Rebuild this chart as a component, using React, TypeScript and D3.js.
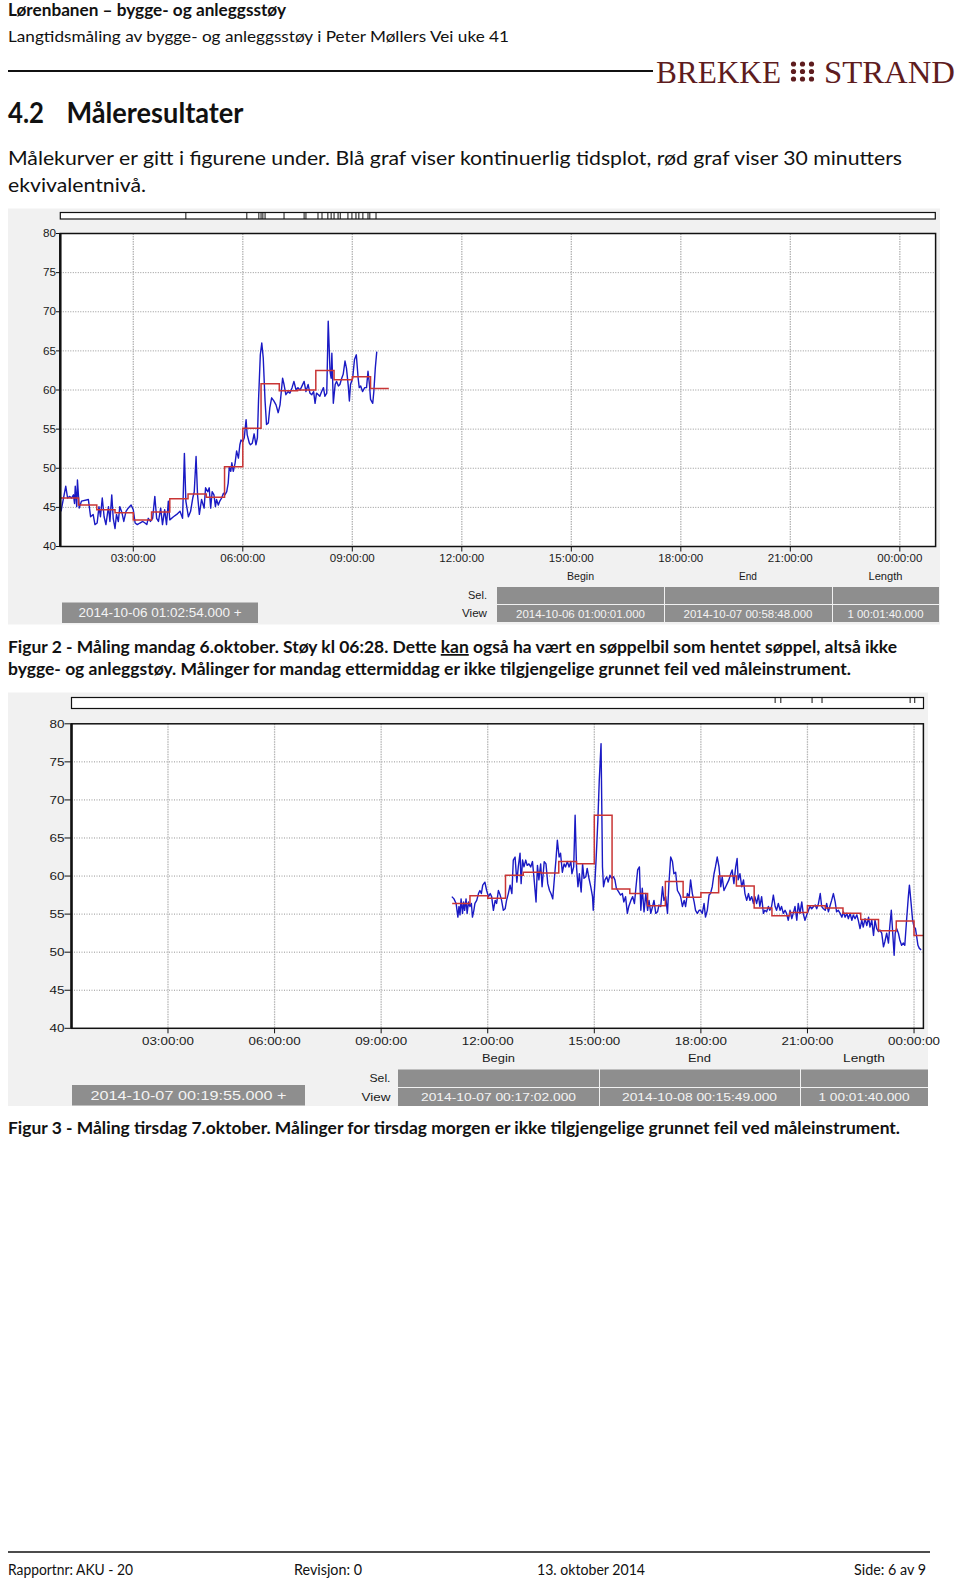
import React from "react";
import * as d3 from "d3";

// ---------- DATA ----------
const yTicks = [40, 45, 50, 55, 60, 65, 70, 75, 80];
const xTickHours = [3, 6, 9, 12, 15, 18, 21, 24];
const xTickLabels = ["03:00:00", "06:00:00", "09:00:00", "12:00:00", "15:00:00", "18:00:00", "21:00:00", "00:00:00"];

// Figur 2 – Monday 6 Oct: continuous level [hour, dB]
const fig2Blue: [number, number][] = [
  [1.02, 44.5], [1.15, 47.7], [1.2, 46.2], [1.26, 46.4], [1.31, 46.2], [1.36, 46.6], [1.39, 45.5], [1.41, 47.7],
  [1.45, 45.1], [1.47, 48.5], [1.52, 44.9], [1.58, 45.8], [1.77, 46.0], [1.83, 43.8], [1.9, 44.1], [1.95, 42.8],
  [2.01, 43.0], [2.06, 45.1], [2.1, 43.8], [2.15, 46.2], [2.2, 43.8], [2.25, 42.8], [2.32, 45.1], [2.36, 43.2],
  [2.41, 46.6], [2.45, 43.6], [2.5, 42.3], [2.54, 44.1], [2.59, 43.2], [2.63, 45.1], [2.69, 44.3], [2.74, 43.2],
  [2.8, 44.5], [2.86, 44.9], [2.94, 45.3], [3.0, 44.7], [3.05, 43.0], [3.11, 42.8], [3.18, 43.0], [3.26, 43.2],
  [3.32, 43.0], [3.37, 42.8], [3.41, 43.6], [3.47, 43.2], [3.53, 43.6], [3.59, 46.4], [3.64, 43.6], [3.69, 43.2],
  [3.75, 44.9], [3.8, 42.8], [3.86, 44.7], [3.91, 42.8], [3.96, 45.8], [4.0, 43.4], [4.1, 43.8], [4.19, 44.1],
  [4.28, 44.5], [4.35, 43.6], [4.4, 51.9], [4.44, 45.8], [4.51, 43.8], [4.57, 44.5], [4.63, 46.2], [4.67, 47.0],
  [4.72, 51.5], [4.76, 46.6], [4.81, 44.1], [4.87, 46.0], [4.94, 44.9], [4.98, 47.5], [5.04, 47.0], [5.08, 47.5],
  [5.12, 44.9], [5.16, 47.0], [5.21, 46.6], [5.25, 45.1], [5.28, 46.0], [5.33, 45.3], [5.37, 45.8], [5.42, 46.2],
  [5.47, 46.8], [5.51, 46.6], [5.56, 47.0], [5.6, 48.1], [5.63, 50.2], [5.67, 49.6], [5.7, 50.7], [5.74, 49.6],
  [5.79, 50.7], [5.83, 52.2], [5.88, 51.3], [5.92, 53.0], [5.95, 53.6], [6.0, 53.4], [6.04, 53.9], [6.09, 56.2],
  [6.12, 54.3], [6.18, 53.2], [6.21, 53.0], [6.26, 53.2], [6.31, 54.4], [6.36, 53.0], [6.4, 53.9], [6.43, 58.6],
  [6.48, 64.5], [6.52, 66.0], [6.56, 64.1], [6.61, 58.6], [6.65, 55.6], [6.7, 55.8], [6.74, 57.7], [6.79, 59.0],
  [6.85, 58.6], [6.91, 58.1], [6.97, 57.1], [7.02, 58.1], [7.09, 61.5], [7.13, 60.7], [7.18, 59.4], [7.24, 59.8],
  [7.29, 59.6], [7.35, 60.3], [7.4, 61.1], [7.46, 60.0], [7.51, 60.3], [7.57, 60.0], [7.62, 60.5], [7.68, 61.1],
  [7.73, 59.8], [7.79, 60.7], [7.84, 59.6], [7.89, 59.4], [7.94, 59.8], [7.98, 58.3], [8.02, 59.6], [8.07, 59.4],
  [8.11, 59.2], [8.16, 59.8], [8.21, 60.3], [8.25, 59.2], [8.3, 59.6], [8.34, 68.8], [8.39, 62.4], [8.42, 61.5],
  [8.44, 64.7], [8.48, 58.3], [8.53, 60.7], [8.57, 61.1], [8.62, 60.5], [8.66, 60.7], [8.71, 61.5], [8.75, 62.0],
  [8.8, 63.7], [8.84, 62.8], [8.89, 60.5], [8.92, 58.6], [8.95, 60.7], [9.01, 61.5], [9.06, 63.9], [9.11, 64.5],
  [9.16, 61.5], [9.19, 60.3], [9.23, 60.5], [9.28, 59.8], [9.34, 60.3], [9.39, 60.3], [9.43, 62.4], [9.47, 60.7],
  [9.5, 58.8], [9.56, 58.3], [9.59, 59.8], [9.63, 62.8], [9.67, 64.9],
];
// Figur 2 – 30 min Leq [period start hour, dB]
const fig2Leq: [number, number][] = [
  [1.0, 46.2], [1.5, 45.3], [2.0, 44.7], [2.5, 44.3], [3.0, 43.4], [3.5, 44.4], [4.0, 46.1], [4.5, 46.7],
  [5.0, 46.3], [5.5, 50.2], [6.0, 55.1], [6.5, 60.8], [7.0, 59.9], [7.5, 60.0], [8.0, 62.5], [8.5, 61.3],
  [9.0, 61.7], [9.5, 60.2],
];
const fig2LeqEnd = 10.0;
const fig2Markers = [4.44, 6.11, 6.44, 6.5, 6.55, 6.61, 7.13, 7.68, 7.73, 8.06, 8.17, 8.33, 8.42, 8.5, 8.61, 8.67,
  8.88, 8.99, 9.1, 9.18, 9.29, 9.43, 9.48, 9.65];
const fig2Texts = { cursor: "2014-10-06 01:02:54.000 +", begin: "2014-10-06 01:00:01.000", end: "2014-10-07 00:58:48.000", length: "1 00:01:40.000" };
const fig2View: [number, number] = [1 + 1 / 3600, 24 + 58 / 60 + 48 / 3600];

// Figur 3 – Tuesday 7 Oct
const fig3Blue: [number, number][] = [
  [10.99, 57.3], [11.05, 57.0], [11.11, 56.4], [11.16, 54.6], [11.19, 56.0], [11.22, 54.9], [11.25, 57.0], [11.29, 55.1],
  [11.32, 56.6], [11.35, 55.5], [11.39, 57.0], [11.42, 55.1], [11.46, 56.6], [11.5, 56.0], [11.54, 56.4], [11.57, 54.6],
  [11.61, 55.5], [11.64, 56.4], [11.69, 56.8], [11.74, 57.7], [11.78, 58.1], [11.82, 57.7], [11.86, 58.8], [11.92, 59.2],
  [11.97, 58.1], [12.02, 57.3], [12.07, 57.7], [12.11, 57.3], [12.16, 55.5], [12.21, 56.8], [12.25, 56.4], [12.3, 58.1],
  [12.35, 57.5], [12.39, 56.8], [12.44, 55.5], [12.49, 55.7], [12.53, 56.8], [12.58, 57.7], [12.63, 58.8], [12.68, 57.7],
  [12.72, 62.1], [12.77, 62.5], [12.82, 59.2], [12.86, 61.2], [12.91, 63.0], [12.94, 59.0], [12.98, 62.1], [13.02, 61.2],
  [13.07, 62.1], [13.11, 61.4], [13.16, 61.6], [13.21, 61.2], [13.26, 61.9], [13.3, 59.9], [13.36, 56.6], [13.4, 61.4],
  [13.44, 59.5], [13.49, 61.6], [13.53, 58.6], [13.59, 61.9], [13.64, 61.6], [13.69, 59.0], [13.74, 58.1], [13.78, 57.7],
  [13.83, 57.0], [13.88, 59.9], [13.92, 62.1], [13.96, 64.7], [14.01, 62.5], [14.05, 63.0], [14.1, 60.5], [14.15, 61.6],
  [14.19, 61.2], [14.24, 61.9], [14.29, 61.2], [14.34, 61.9], [14.37, 60.3], [14.42, 61.2], [14.46, 68.0], [14.5, 61.2],
  [14.54, 58.6], [14.58, 60.3], [14.63, 57.9], [14.67, 61.6], [14.71, 59.7], [14.76, 59.9], [14.8, 61.0], [14.85, 59.7],
  [14.9, 58.6], [14.95, 57.3], [14.97, 55.5], [15.01, 58.6], [15.05, 62.1], [15.1, 67.3], [15.14, 72.6], [15.19, 77.4],
  [15.23, 61.2], [15.26, 58.6], [15.3, 59.5], [15.35, 59.9], [15.39, 59.2], [15.44, 60.1], [15.49, 59.7], [15.54, 59.9],
  [15.58, 59.5], [15.62, 58.4], [15.69, 57.9], [15.74, 57.5], [15.79, 57.7], [15.83, 56.6], [15.88, 57.3], [15.93, 55.1],
  [15.97, 56.0], [16.03, 56.8], [16.08, 57.3], [16.13, 56.4], [16.17, 58.4], [16.22, 60.8], [16.27, 61.2], [16.31, 55.5],
  [16.35, 58.4], [16.4, 55.3], [16.45, 57.7], [16.5, 55.5], [16.54, 56.8], [16.59, 55.1], [16.64, 56.0], [16.68, 56.8],
  [16.73, 55.1], [16.78, 55.3], [16.82, 56.2], [16.87, 56.0], [16.92, 58.6], [16.96, 56.8], [17.01, 57.3], [17.06, 55.1],
  [17.1, 59.0], [17.15, 62.5], [17.2, 61.9], [17.24, 60.3], [17.29, 60.5], [17.34, 58.1], [17.39, 57.7], [17.43, 57.3],
  [17.48, 56.0], [17.53, 56.8], [17.57, 56.0], [17.62, 57.7], [17.67, 57.3], [17.71, 59.5], [17.76, 57.7], [17.81, 56.6],
  [17.85, 55.5], [17.9, 55.1], [17.95, 55.5], [17.99, 55.5], [18.04, 55.1], [18.09, 56.4], [18.13, 54.6], [18.18, 55.5],
  [18.23, 57.5], [18.27, 57.7], [18.32, 58.6], [18.37, 60.3], [18.41, 61.2], [18.46, 62.5], [18.51, 61.2], [18.56, 58.6],
  [18.6, 59.9], [18.65, 58.1], [18.7, 58.6], [18.74, 59.0], [18.79, 59.5], [18.84, 60.3], [18.88, 60.8], [18.93, 59.0],
  [18.98, 61.2], [19.02, 62.3], [19.05, 59.5], [19.1, 60.3], [19.15, 58.6], [19.2, 59.5], [19.24, 57.7], [19.29, 56.8],
  [19.34, 57.7], [19.38, 56.8], [19.43, 57.3], [19.48, 56.4], [19.52, 57.3], [19.57, 56.4], [19.62, 57.5], [19.66, 56.0],
  [19.71, 57.3], [19.76, 55.1], [19.8, 55.5], [19.85, 55.3], [19.9, 56.0], [19.94, 55.5], [19.99, 56.0], [20.04, 57.5],
  [20.09, 56.0], [20.13, 55.5], [20.18, 56.4], [20.23, 55.5], [20.27, 56.0], [20.32, 55.1], [20.37, 55.5], [20.41, 55.1],
  [20.46, 54.2], [20.51, 55.5], [20.56, 54.4], [20.6, 55.1], [20.65, 56.0], [20.7, 54.2], [20.74, 56.4], [20.79, 55.1],
  [20.84, 56.6], [20.88, 55.1], [20.93, 54.2], [20.98, 54.9], [21.03, 55.5], [21.07, 56.0], [21.12, 55.7], [21.17, 56.0],
  [21.22, 56.2], [21.26, 55.7], [21.31, 56.4], [21.36, 57.7], [21.4, 56.0], [21.45, 55.7], [21.5, 55.5], [21.54, 56.4],
  [21.59, 55.3], [21.63, 56.0], [21.68, 56.8], [21.73, 57.7], [21.78, 56.6], [21.82, 55.3], [21.87, 55.5], [21.92, 55.1],
  [21.97, 54.6], [22.01, 55.3], [22.06, 54.6], [22.11, 55.1], [22.15, 54.4], [22.2, 55.1], [22.25, 54.2], [22.29, 54.9],
  [22.34, 54.4], [22.39, 54.9], [22.43, 54.2], [22.48, 53.1], [22.53, 54.2], [22.57, 53.3], [22.62, 54.4], [22.67, 53.5],
  [22.72, 54.6], [22.76, 53.3], [22.81, 54.2], [22.86, 52.2], [22.9, 54.2], [22.95, 53.1], [23.0, 52.7], [23.04, 52.9],
  [23.09, 52.5], [23.14, 50.7], [23.18, 51.4], [23.23, 52.5], [23.28, 51.2], [23.32, 53.5], [23.36, 55.5], [23.4, 52.5],
  [23.44, 49.6], [23.47, 52.5], [23.51, 53.1], [23.56, 52.5], [23.6, 51.6], [23.65, 50.9], [23.7, 51.2], [23.74, 50.9],
  [23.79, 54.2], [23.84, 57.3], [23.87, 58.8], [23.91, 56.8], [23.96, 54.2], [24.0, 53.3], [24.04, 53.1], [24.07, 52.2],
  [24.11, 50.9], [24.15, 50.5], [24.2, 50.3],
];
const fig3Leq: [number, number][] = [
  [11.0, 56.4], [11.5, 57.4], [12.0, 57.1], [12.5, 60.1], [13.0, 60.5], [13.5, 60.4], [14.0, 61.9], [14.5, 61.6],
  [15.0, 68.0], [15.5, 58.3], [16.0, 57.7], [16.5, 56.1], [17.0, 59.3], [17.5, 57.2], [18.0, 57.8], [18.5, 60.0],
  [19.0, 58.7], [19.5, 55.8], [20.0, 54.8], [20.5, 55.2], [21.0, 56.1], [21.5, 55.8], [22.0, 55.1], [22.5, 54.3],
  [23.0, 52.8], [23.5, 54.1], [24.0, 52.2],
];
const fig3LeqEnd = 24.27;
const fig3Markers = [20.09, 20.25, 21.13, 21.41, 23.89, 24.02];
const fig3Texts = { cursor: "2014-10-07 00:19:55.000 +", begin: "2014-10-07 00:17:02.000", end: "2014-10-08 00:15:49.000", length: "1 00:01:40.000" };
const fig3View: [number, number] = [17 / 60 + 2 / 3600, 24 + 15 / 60 + 49 / 3600];

// ---------- LAYOUT ----------
const chartFont = "'Liberation Sans', Arial, sans-serif";
const docFont = "Lato, 'Open Sans', sans-serif";

const layout1 = {
  panel: [8, 208.5, 932, 416], strip: [60.3, 212.5, 875, 6.5], markerFrac: 1,
  x0: 60.3, x1: 935.6, y0: 233.5, y1: 546.5,
  xFs: 11, xLabLen: 45, yFs: 10, yLabLen: 13, yLabRight: 56, xLabY: 562,
  headY: 580, cols: [497, 664, 832, 939], sel: [587, 604], view: [605, 622], rowRight: 487,
  left: [62, 602.5, 196, 20.5], leftFs: 13, leftLen: 163, boxFs: 11, dateLen: 129, lenLen: 76,
  hFs: 10.5, hLen: { Begin: 27, End: 18, Length: 34, "Sel.": 19, View: 25 },
};
const layout2 = {
  panel: [8, 692.5, 920, 413.5], strip: [71.5, 697.5, 852, 11], markerFrac: 0.5,
  x0: 71.5, x1: 923.4, y0: 723.8, y1: 1028.3,
  xFs: 11.5, xLabLen: 52, yFs: 10.5, yLabLen: 15, yLabRight: 64.5, xLabY: 1045,
  headY: 1062, cols: [398, 599, 800, 928], sel: [1069.5, 1087], view: [1088, 1106], rowRight: 390.5,
  left: [72, 1085, 233, 20.5], leftFs: 13.5, leftLen: 196, boxFs: 11.5, dateLen: 155, lenLen: 91,
  hFs: 11, hLen: { Begin: 33, End: 23, Length: 42, "Sel.": 21, View: 29 },
};

type D = { blue: [number, number][]; leq: [number, number][]; leqEnd: number; markers: number[]; texts: any; view: [number, number] };

function ST(p: any) {
  const { x, y, fs, len, anchor = "middle", fill = "#1a1a1a", children } = p;
  return (
    <text x={x} y={y} fontSize={fs} textAnchor={anchor} fill={fill} fontFamily={chartFont}
      textLength={len} lengthAdjust="spacingAndGlyphs">{children}</text>
  );
}

function Chart({ L, D }: { L: any; D: D }) {
  const x = d3.scaleLinear().domain(D.view).range([L.x0, L.x1]);
  const y = d3.scaleLinear().domain([40, 80]).range([L.y1, L.y0]);
  const blue = d3.line<[number, number]>().x(d => x(d[0])).y(d => y(d[1]))(D.blue) || "";
  const leqPts: [number, number][] = [...D.leq, [D.leqEnd, D.leq[D.leq.length - 1][1]]];
  const red = d3.line<[number, number]>().curve(d3.curveStepAfter).x(d => x(d[0])).y(d => y(d[1]))(leqPts) || "";
  const [px, py, pw, ph] = L.panel;
  const [sx, sy, sw, sh] = L.strip;
  const c = L.cols;
  const boxFill = "#8e8e8e";
  return (
    <g>
      <rect x={px} y={py} width={pw} height={ph} fill="#f1f1f1" />
      {/* overview strip */}
      <rect x={sx} y={sy} width={sw} height={sh} fill="#fff" stroke="#111" strokeWidth={1.2} />
      {D.markers.map((m, i) => (
        <line key={i} x1={x(m)} x2={x(m)} y1={sy} y2={sy + sh * L.markerFrac} stroke="#111" strokeWidth={1} />
      ))}
      {/* plot */}
      <rect x={L.x0} y={L.y0} width={L.x1 - L.x0} height={L.y1 - L.y0} fill="#fff" />
      {yTicks.filter(t => t > 40 && t < 80).map(t => (
        <line key={t} x1={L.x0} x2={L.x1} y1={y(t)} y2={y(t)} stroke="#8a8a8a" strokeWidth={0.9} strokeDasharray="1,1.5" />
      ))}
      {xTickHours.map(h => (
        <line key={h} x1={x(h)} x2={x(h)} y1={L.y0} y2={L.y1} stroke="#b4b4b4" strokeWidth={1.3} strokeDasharray="1.5,1" />
      ))}
      <path d={blue} fill="none" stroke="#1a1ac4" strokeWidth={1.4} strokeLinejoin="round" />
      <path d={red} fill="none" stroke="#c93535" strokeWidth={1.5} />
      <rect x={L.x0} y={L.y0} width={L.x1 - L.x0} height={L.y1 - L.y0} fill="none" stroke="#111" strokeWidth={1.5} />
      <line x1={L.x0} x2={L.x0} y1={L.y0} y2={L.y1} stroke="#111" strokeWidth={2.5} />
      {/* y axis */}
      {yTicks.map(t => (
        <g key={t}>
          <line x1={L.yLabRight} x2={L.x0} y1={y(t)} y2={y(t)} stroke="#111" strokeWidth={1} />
          <ST x={L.yLabRight} y={y(t) + 3.7} fs={L.yFs} len={L.yLabLen} anchor="end">{String(t)}</ST>
        </g>
      ))}
      {/* x axis */}
      {xTickHours.map((h, i) => (
        <g key={h}>
          <line x1={x(h)} x2={x(h)} y1={L.y1} y2={L.y1 + 5} stroke="#111" strokeWidth={1} />
          <ST x={x(h)} y={L.xLabY} fs={L.xFs} len={L.xLabLen}>{xTickLabels[i]}</ST>
        </g>
      ))}
      {/* info table */}
      <ST x={(c[0] + c[1]) / 2} y={L.headY} fs={L.hFs} len={L.hLen.Begin}>Begin</ST>
      <ST x={(c[1] + c[2]) / 2} y={L.headY} fs={L.hFs} len={L.hLen.End}>End</ST>
      <ST x={(c[2] + c[3]) / 2} y={L.headY} fs={L.hFs} len={L.hLen.Length}>Length</ST>
      <ST x={L.rowRight} y={(L.sel[0] + L.sel[1]) / 2 + 3.8} fs={L.hFs} len={L.hLen["Sel."]} anchor="end">Sel.</ST>
      <ST x={L.rowRight} y={(L.view[0] + L.view[1]) / 2 + 3.8} fs={L.hFs} len={L.hLen.View} anchor="end">View</ST>
      {[0, 1, 2].map(k => (
        <g key={k}>
          <rect x={c[k] + (k ? 1 : 0)} y={L.sel[0]} width={c[k + 1] - c[k] - (k ? 1 : 0)} height={L.sel[1] - L.sel[0]} fill={boxFill} />
          <rect x={c[k] + (k ? 1 : 0)} y={L.view[0]} width={c[k + 1] - c[k] - (k ? 1 : 0)} height={L.view[1] - L.view[0]} fill={boxFill} />
        </g>
      ))}
      <ST x={(c[0] + c[1]) / 2} y={(L.view[0] + L.view[1]) / 2 + 4} fs={L.boxFs} len={L.dateLen} fill="#f4f4f4">{D.texts.begin}</ST>
      <ST x={(c[1] + c[2]) / 2} y={(L.view[0] + L.view[1]) / 2 + 4} fs={L.boxFs} len={L.dateLen} fill="#f4f4f4">{D.texts.end}</ST>
      <ST x={(c[2] + c[3]) / 2} y={(L.view[0] + L.view[1]) / 2 + 4} fs={L.boxFs} len={L.lenLen} fill="#f4f4f4">{D.texts.length}</ST>
      <rect x={L.left[0]} y={L.left[1]} width={L.left[2]} height={L.left[3]} fill={boxFill} />
      <ST x={L.left[0] + L.left[2] / 2} y={L.left[1] + L.left[3] / 2 + 4.6} fs={L.leftFs} len={L.leftLen} fill="#f4f4f4">{D.texts.cursor}</ST>
    </g>
  );
}

function DT(p: any) {
  const { x, y, fs, len, bold, fill = "#111", children, anchor = "start", family = docFont } = p;
  return (
    <text x={x} y={y} fontSize={fs} fontWeight={bold ? 700 : 400} fill={fill} fontFamily={family} textAnchor={anchor}
      textLength={len} lengthAdjust="spacingAndGlyphs">{children}</text>
  );
}

export default function App() {
  const dotCols = [793.5, 802.5, 811.5];
  const dotRows = [64, 71.5, 79];
  return (
    <svg width={960} height={1579} viewBox="0 0 960 1579" style={{ position: "absolute", left: 0, top: 0, background: "#fff" }}>
      <rect x={0} y={0} width={960} height={1579} fill="#fff" />
      {/* header */}
      <DT x={8} y={15.5} fs={16.5} len={278} bold>Lørenbanen – bygge- og anleggsstøy</DT>
      <DT x={8} y={41.5} fs={16} len={501}>Langtidsmåling av bygge- og anleggsstøy i Peter Møllers Vei uke 41</DT>
      <line x1={8} x2={653} y1={71} y2={71} stroke="#111" strokeWidth={2} />
      <DT x={656} y={82.5} fs={32} len={125} family="'Liberation Serif', 'DejaVu Serif', serif" fill="#5e1c1e">BREKKE</DT>
      {dotCols.map(cx => dotRows.map(cy => <circle key={cx + "-" + cy} cx={cx} cy={cy} r={2.6} fill="#5e1c1e" />))}
      <DT x={824} y={82.5} fs={32} len={131} family="'Liberation Serif', 'DejaVu Serif', serif" fill="#5e1c1e">STRAND</DT>

      <DT x={8} y={123} fs={28} len={36} bold>4.2</DT>
      <DT x={66.5} y={123} fs={28} len={177} bold>Måleresultater</DT>

      <DT x={8} y={164.5} fs={20} len={894}>Målekurver er gitt i figurene under. Blå graf viser kontinuerlig tidsplot, rød graf viser 30 minutters</DT>
      <DT x={8} y={191.5} fs={20} len={138}>ekvivalentnivå.</DT>

      <Chart L={layout1} D={{ blue: fig2Blue, leq: fig2Leq, leqEnd: fig2LeqEnd, markers: fig2Markers, texts: fig2Texts, view: fig2View }} />

      <text x={8} y={653} fontSize={17.5} fontWeight={700} fill="#111" fontFamily={docFont} textLength={889} lengthAdjust="spacingAndGlyphs">
        Figur 2 - Måling mandag 6.oktober. Støy  kl 06:28. Dette <tspan style={{ textDecoration: "underline" }}>kan</tspan> også ha vært en søppelbil som hentet søppel, altså ikke
      </text>
      <DT x={8} y={675} fs={17.5} len={843} bold>bygge- og anleggstøy. Målinger for mandag ettermiddag er ikke tilgjengelige grunnet feil ved måleinstrument.</DT>

      <Chart L={layout2} D={{ blue: fig3Blue, leq: fig3Leq, leqEnd: fig3LeqEnd, markers: fig3Markers, texts: fig3Texts, view: fig3View }} />

      <DT x={8} y={1134} fs={17.5} len={892} bold>Figur 3 - Måling tirsdag 7.oktober. Målinger for tirsdag morgen er ikke tilgjengelige grunnet feil ved måleinstrument.</DT>

      {/* footer */}
      <line x1={8} x2={930} y1={1552} y2={1552} stroke="#111" strokeWidth={1.6} />
      <DT x={8} y={1574.5} fs={14.5} len={125}>Rapportnr: AKU - 20</DT>
      <DT x={294} y={1574.5} fs={14.5} len={68}>Revisjon: 0</DT>
      <DT x={537} y={1574.5} fs={14.5} len={108}>13. oktober 2014</DT>
      <DT x={854} y={1574.5} fs={14.5} len={72}>Side: 6 av 9</DT>
    </svg>
  );
}
